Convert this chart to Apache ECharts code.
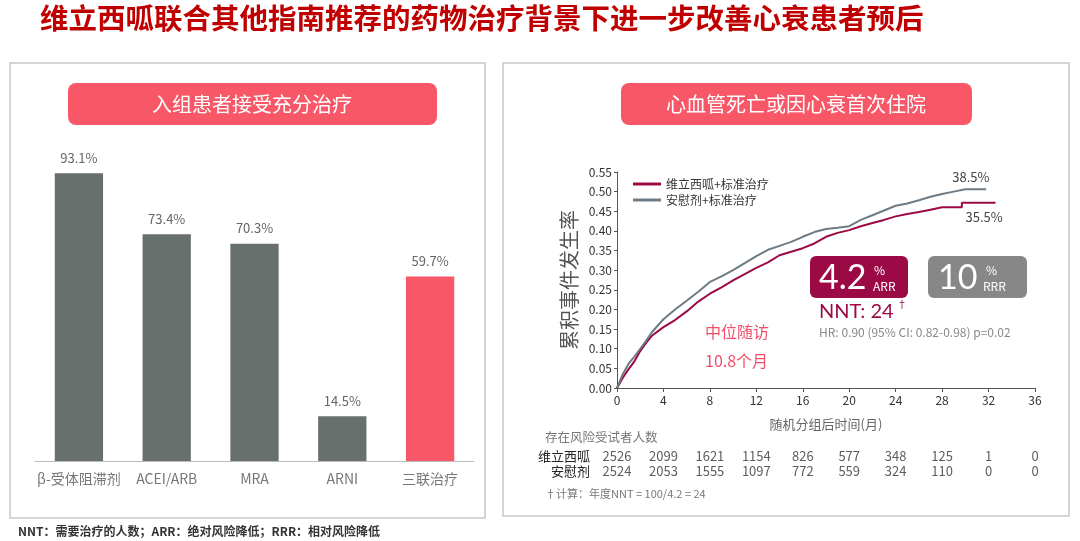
<!DOCTYPE html>
<html>
<head>
<meta charset="utf-8">
<script src="https://cdn.jsdelivr.net/npm/echarts@6/dist/echarts.min.js"></script>
<style>
  html, body { margin: 0; padding: 0; background: #fff; }
  #chart { width: 1080px; height: 541px; }
</style>
</head>
<body>
<div id="chart"></div>
<script>
// left panel: background therapy
const therapyNames = ['β-受体阻滞剂', 'ACEI/ARB', 'MRA', 'ARNI', '三联治疗'];
const therapyPct = [93.1, 73.4, 70.3, 14.5, 59.7];
const highlightName = '三联治疗';

// right panel: cumulative incidence [month, rate]
const vericiguatCurve = [
  [0, 0], [0.5, 0.026], [1, 0.048], [1.5, 0.068], [2, 0.094], [2.5, 0.115], [3, 0.133],
  [4, 0.155], [5, 0.173], [6, 0.195], [7, 0.22], [8, 0.24], [9, 0.256], [10, 0.274],
  [11, 0.29], [12, 0.306], [13, 0.32], [14, 0.338], [15, 0.347], [16, 0.356], [17, 0.368],
  [18, 0.385], [19, 0.395], [20, 0.402], [21, 0.412], [22, 0.42], [23, 0.428], [24, 0.437],
  [25, 0.443], [26, 0.448], [27, 0.454], [28, 0.46], [29.7, 0.46], [29.7, 0.472], [32.6, 0.472]
];
const placeboCurve = [
  [0, 0], [0.5, 0.035], [1, 0.062], [1.5, 0.08], [2, 0.1], [2.5, 0.12], [3, 0.142],
  [4, 0.175], [5, 0.2], [6, 0.222], [7, 0.245], [8, 0.27], [9, 0.284], [10, 0.3],
  [11, 0.318], [12, 0.336], [13, 0.352], [14, 0.362], [15, 0.372], [16, 0.385], [17, 0.397],
  [18, 0.405], [19, 0.408], [20, 0.412], [21, 0.428], [22, 0.44], [23, 0.452], [24, 0.464],
  [25, 0.47], [26, 0.478], [27, 0.487], [28, 0.494], [29, 0.5], [30, 0.506], [31.8, 0.506]
];
const seriesNames = ['维立西呱+标准治疗', '安慰剂+标准治疗'];
const endLabels = ['35.5%', '38.5%'];

// number at risk
const riskMonths = [0, 4, 8, 12, 16, 20, 24, 28, 32, 36];
const riskRows = ['安慰剂', '维立西呱'];
const riskVericiguat = [2526, 2099, 1621, 1154, 826, 577, 348, 125, 1, 0];
const riskPlacebo = [2524, 2053, 1555, 1097, 772, 559, 324, 110, 0, 0];

const RED = '#9b0a45';
const GRAY = '#6e7a84';
const PINK = '#f75767';
const FONT = '"Noto Sans CJK SC", "Noto Sans", sans-serif';

const riskData = [];
riskMonths.forEach((m, i) => {
  riskData.push([m, '维立西呱', riskVericiguat[i]]);
  riskData.push([m, '安慰剂', riskPlacebo[i]]);
});

const chart = echarts.init(document.getElementById('chart'));
const option = {
  backgroundColor: '#fff',
  textStyle: { fontFamily: FONT },
  animation: false,
  legend: {
    data: seriesNames,
    orient: 'vertical',
    left: 628,
    top: 173,
    itemWidth: 28,
    itemHeight: 3,
    itemGap: 4,
    icon: 'rect',
    textStyle: { fontSize: 12, color: '#333', fontFamily: FONT }
  },
  grid: [
    { left: 35, right: 606, top: 152, bottom: 80 },
    { left: 617, right: 45, top: 172, bottom: 153 },
    { left: 617, right: 45, top: 449, height: 30 }
  ],
  xAxis: [
    {
      gridIndex: 0, type: 'category', data: therapyNames,
      axisLine: { lineStyle: { color: '#bbb' } },
      axisTick: { lineStyle: { color: '#bbb' }, length: 5 },
      axisLabel: { color: '#777', fontSize: 14, margin: 11, interval: 0 }
    },
    {
      gridIndex: 1, type: 'value', min: 0, max: 36, interval: 4,
      name: '随机分组后时间(月)', nameLocation: 'middle', nameGap: 30,
      nameTextStyle: { color: '#666', fontSize: 13 },
      axisLine: { lineStyle: { color: '#555' } },
      axisTick: { show: true, length: 4, lineStyle: { color: '#555' } },
      axisLabel: { color: '#333', fontSize: 12, margin: 6 },
      splitLine: { show: false }
    },
    {
      gridIndex: 2, type: 'value', min: 0, max: 36, show: false
    }
  ],
  yAxis: [
    { gridIndex: 0, type: 'value', min: 0, max: 100, show: false },
    {
      gridIndex: 1, type: 'value', min: 0, max: 0.55, interval: 0.05,
      name: '累积事件发生率', nameLocation: 'middle', nameGap: 38,
      nameTextStyle: { color: '#555', fontSize: 20 },
      axisLine: { show: true, lineStyle: { color: '#555' } },
      axisTick: { show: true, length: 3, lineStyle: { color: '#555' } },
      axisLabel: { color: '#333', fontSize: 12, margin: 5, formatter: v => v.toFixed(2) },
      splitLine: { show: false }
    },
    {
      gridIndex: 2, type: 'category', data: riskRows,
      axisLine: { show: false }, axisTick: { show: false },
      axisLabel: { color: '#222', fontSize: 13, margin: 27, interval: 0 }
    }
  ],
  series: [
    {
      type: 'bar', xAxisIndex: 0, yAxisIndex: 0, barWidth: '55%',
      data: therapyPct.map((v, i) => ({
        value: v,
        itemStyle: { color: therapyNames[i] === highlightName ? PINK : '#68706d' }
      })),
      label: {
        show: true, position: 'top', distance: 9, color: '#666', fontSize: 13,
        formatter: p => p.value.toFixed(1) + '%'
      }
    },
    {
      name: seriesNames[0], type: 'line', xAxisIndex: 1, yAxisIndex: 1,
      data: vericiguatCurve, showSymbol: false, color: RED,
      lineStyle: { width: 2, color: RED },
      endLabel: { show: true, formatter: endLabels[0], color: '#444', fontSize: 13, offset: [-38, 14] }
    },
    {
      name: seriesNames[1], type: 'line', xAxisIndex: 1, yAxisIndex: 1,
      data: placeboCurve, showSymbol: false, color: GRAY,
      lineStyle: { width: 2, color: GRAY },
      endLabel: { show: true, formatter: endLabels[1], color: '#444', fontSize: 13, offset: [-42, -12] }
    },
    {
      type: 'scatter', xAxisIndex: 2, yAxisIndex: 2, symbolSize: 0,
      data: riskData,
      label: { show: true, position: 'inside', color: '#333', fontSize: 13, formatter: p => String(p.value[2]) }
    }
  ],
  graphic: [
    {
      type: 'text', left: 40, top: 4,
      style: { text: '维立西呱联合其他指南推荐的药物治疗背景下进一步改善心衰患者预后', fill: '#c00000', font: 'bold 28.5px ' + FONT }
    },
    { type: 'rect', shape: { x: 10, y: 63, width: 475, height: 455 }, style: { fill: 'none', stroke: '#c8c8c8', lineWidth: 1.5 }, z: -1 },
    { type: 'rect', shape: { x: 503, y: 63, width: 566, height: 453 }, style: { fill: 'none', stroke: '#c8c8c8', lineWidth: 1.5 }, z: -1 },
    { type: 'rect', shape: { x: 68, y: 83, width: 369, height: 42, r: 8 }, style: { fill: PINK } },
    { type: 'text', x: 252, y: 104, style: { text: '入组患者接受充分治疗', fill: '#fff', font: '20px ' + FONT, align: 'center', verticalAlign: 'middle' } },
    { type: 'rect', shape: { x: 621, y: 83, width: 351, height: 42, r: 8 }, style: { fill: PINK } },
    { type: 'text', x: 796, y: 104, style: { text: '心血管死亡或因心衰首次住院', fill: '#fff', font: '20px ' + FONT, align: 'center', verticalAlign: 'middle' } },
    { type: 'rect', shape: { x: 810, y: 256, width: 98, height: 42, r: 6 }, style: { fill: RED } },
    { type: 'text', x: 819, y: 278, style: { text: '4.2', fill: '#fff', font: '34px Lato, sans-serif', verticalAlign: 'middle' } },
    { type: 'text', x: 874, y: 270, style: { text: '%', fill: '#fff', font: '12px ' + FONT, verticalAlign: 'middle' } },
    { type: 'text', x: 873, y: 286, style: { text: 'ARR', fill: '#fff', font: '12px ' + FONT, verticalAlign: 'middle' } },
    { type: 'rect', shape: { x: 928, y: 256, width: 99, height: 42, r: 6 }, style: { fill: '#878787' } },
    { type: 'text', x: 938, y: 278, style: { text: '10', fill: '#fff', font: '34px Lato, sans-serif', verticalAlign: 'middle' } },
    { type: 'text', x: 986, y: 270, style: { text: '%', fill: '#fff', font: '12px ' + FONT, verticalAlign: 'middle' } },
    { type: 'text', x: 983, y: 286, style: { text: 'RRR', fill: '#fff', font: '12px ' + FONT, verticalAlign: 'middle' } },
    { type: 'text', x: 819, y: 312, style: { text: 'NNT: 24', fill: RED, font: '20px Lato, sans-serif', verticalAlign: 'middle' } },
    { type: 'text', x: 897, y: 304, style: { text: '†', fill: RED, font: '10px ' + FONT, verticalAlign: 'middle' } },
    { type: 'text', x: 819, y: 332, style: { text: 'HR: 0.90 (95% CI: 0.82-0.98) p=0.02', fill: '#888', font: '12px ' + FONT, verticalAlign: 'middle' } },
    { type: 'text', x: 705, y: 332, style: { text: '中位随访', fill: '#f0506a', font: '16px ' + FONT, verticalAlign: 'middle' } },
    { type: 'text', x: 705, y: 361, style: { text: '10.8个月', fill: '#f0506a', font: '16px ' + FONT, verticalAlign: 'middle' } },
    { type: 'text', x: 545, y: 437, style: { text: '存在风险受试者人数', fill: '#777', font: '12.5px ' + FONT, verticalAlign: 'middle' } },
    { type: 'text', x: 545, y: 494, style: { text: '†计算：年度NNT = 100/4.2 = 24', fill: '#777', font: '11px ' + FONT, verticalAlign: 'middle' } },
    { type: 'text', x: 18, y: 531, style: { text: 'NNT：需要治疗的人数；ARR：绝对风险降低；RRR：相对风险降低', fill: '#333', font: 'bold 12px ' + FONT, verticalAlign: 'middle' } }
  ]
};
chart.setOption(option);
</script>
</body>
</html>
